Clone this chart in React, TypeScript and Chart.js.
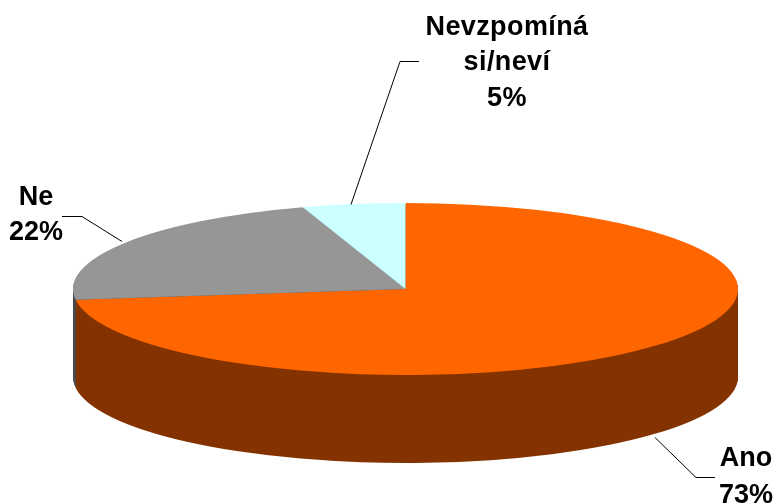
import React, { useEffect, useRef } from "react";
import { Chart, registerables } from "chart.js";

Chart.register(...registerables);

const categories = ["Ano", "Ne", "Nevzpomíná si/neví"];
const values = [73, 22, 5];
const topColors = ["#FF6600", "#969696", "#CCFFFF"];
const wallColors = ["#843300", "#4B4B4B", "#668080"];
const labelLines = [["Ano", "73%"], ["Ne", "22%"], ["Nevzpomíná", "si/neví", "5%"]];
const labelCentres = [[746, 459, 37], [36, 197.5, 35], [507, 27.5, 35.5]];
const labelSpacing = ["0px", "0px", "0.4px"];
const leaders = [
  [[655, 437], [696, 477], [715, 477]],
  [[122, 241], [82, 216], [62, 216]],
  [[351, 204], [400, 61], [419, 61]],
];
const wallOrder = [2, 1, 0];

const CX = 405.5, CY = 289, RX = 332.5, RY = 86, DEPTH = 88;

const pie3d = {
  id: "pie3d",
  beforeDatasetsDraw(chart: any) {
    const { ctx } = chart;
    const arcs = chart.getDatasetMeta(0).data;
    const r = arcs[0].outerRadius;
    const transform = (dy: number) => {
      ctx.translate(CX, CY + dy);
      ctx.scale(RX / r, RY / r);
      ctx.translate(-arcs[0].x, -arcs[0].y);
    };
    for (const i of wallOrder) {
      const el = arcs[i];
      const saved = el.options;
      el.options = { ...saved, backgroundColor: wallColors[i], borderWidth: 0 };
      for (let dy = DEPTH; dy > 0; dy--) {
        ctx.save();
        transform(dy);
        el.draw(ctx);
        ctx.restore();
      }
      el.options = saved;
    }
    ctx.save();
    transform(0);
  },
  afterDatasetsDraw(chart: any) {
    const { ctx } = chart;
    ctx.restore();
    ctx.save();
    ctx.strokeStyle = "#000";
    ctx.lineWidth = 1;
    for (const pts of leaders) {
      ctx.beginPath();
      pts.forEach(([x, y], i) => (i ? ctx.lineTo(x, y + 0.5) : ctx.moveTo(x, y + 0.5)));
      ctx.stroke();
    }
    ctx.fillStyle = "#000";
    ctx.font = 'bold 27px "Liberation Sans", Arial, sans-serif';
    ctx.textAlign = "center";
    ctx.textBaseline = "middle";
    labelLines.forEach((lines, i) => {
      const [x, y, lh] = labelCentres[i];
      (ctx as any).letterSpacing = labelSpacing[i];
      lines.forEach((t, j) => ctx.fillText(t, x, y + j * lh));
    });
    ctx.restore();
  },
};

export default function App() {
  const ref = useRef<HTMLCanvasElement>(null);
  useEffect(() => {
    const chart = new Chart(ref.current!, {
      type: "pie",
      data: {
        labels: categories,
        datasets: [{ data: values, backgroundColor: topColors, borderWidth: 0, clip: false } as any],
      },
      options: {
        responsive: false,
        animation: false,
        events: [],
        layout: { padding: 0 },
        plugins: { legend: { display: false }, tooltip: { enabled: false } },
      },
      plugins: [pie3d],
    });
    return () => chart.destroy();
  }, []);
  return (
    <div style={{ position: "fixed", left: 0, top: 0, width: 777, height: 504, background: "#fff" }}>
      <canvas ref={ref} width={777} height={504} style={{ display: "block" }} />
    </div>
  );
}
